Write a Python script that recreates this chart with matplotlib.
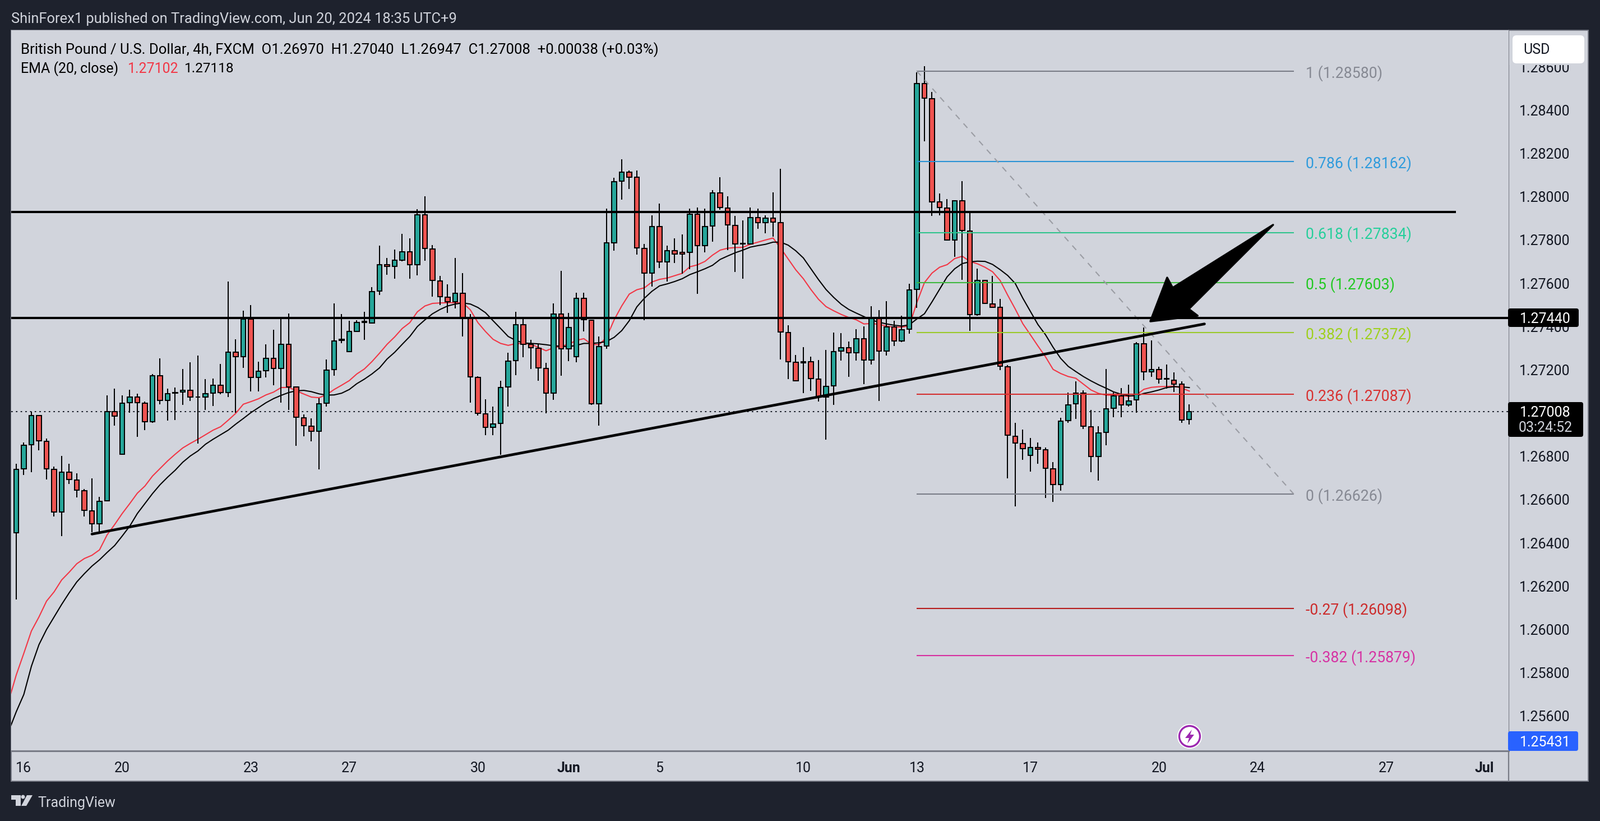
"""GBP/USD 4h TradingView snapshot with fib levels and hand drawn lines."""

import matplotlib
matplotlib.use("Agg")
import matplotlib.patches as mpatches
import matplotlib.pyplot as plt
import numpy as np
from matplotlib.transforms import Affine2D, blended_transform_factory

W, H = 2854, 1464
plt.rcParams["font.family"] = "Roboto"

opens = [
    1.26447, 1.26742, 1.26853, 1.26989, 1.26869, 1.26741, 1.26543, 1.26727, 1.26691, 1.26642,
    1.26549, 1.26488, 1.26594, 1.27007, 1.26810, 1.27047, 1.27074, 1.27046, 1.26959, 1.27173,
    1.27058, 1.27092, 1.27097, 1.27105, 1.27075, 1.27074, 1.27092, 1.27128, 1.27095, 1.27282,
    1.27262, 1.27435, 1.27164, 1.27196, 1.27253, 1.27206, 1.27318, 1.27120, 1.26978, 1.26940,
    1.26915, 1.27045, 1.27200, 1.27336, 1.27283, 1.27378, 1.27420, 1.27415, 1.27563, 1.27686,
    1.27677, 1.27707, 1.27746, 1.27685, 1.27916, 1.27758, 1.27611, 1.27536, 1.27516, 1.27554,
    1.27436, 1.27165, 1.26997, 1.26934, 1.26952, 1.27120, 1.27242, 1.27408, 1.27318, 1.27300,
    1.27206, 1.27092, 1.27459, 1.27298, 1.27260, 1.27530, 1.27429, 1.27043, 1.27309, 1.27788,
    1.28071, 1.28114, 1.28090, 1.27761, 1.27646, 1.27862, 1.27698, 1.27751, 1.27743, 1.27744,
    1.27920, 1.27773, 1.27864, 1.28018, 1.27948, 1.27867, 1.27781, 1.27781, 1.27903, 1.27880,
    1.27901, 1.27880, 1.27372, 1.27235, 1.27232, 1.27238, 1.27158, 1.27074, 1.27125, 1.27286,
    1.27301, 1.27279, 1.27343, 1.27245, 1.27437, 1.27286, 1.27398, 1.27333, 1.27388, 1.27571,
    1.28522, 1.28453, 1.27975, 1.27947, 1.27800, 1.27981, 1.27840, 1.27455, 1.27614, 1.27504,
    1.27488, 1.27214, 1.26894, 1.26859, 1.26805, 1.26840, 1.26831, 1.26742, 1.26669, 1.26965,
    1.27042, 1.27092, 1.26936, 1.26799, 1.26911, 1.27022, 1.27079, 1.27037, 1.27060, 1.27320,
    1.27192, 1.27201, 1.27156, 1.27152, 1.27133, 1.26970,
]
highs = [
    1.26767, 1.26863, 1.27007, 1.26989, 1.26883, 1.26752, 1.26802, 1.26767, 1.26723, 1.26648,
    1.26698, 1.26614, 1.27083, 1.27112, 1.27081, 1.27108, 1.27091, 1.27054, 1.27181, 1.27252,
    1.27112, 1.27118, 1.27204, 1.27236, 1.27265, 1.27157, 1.27161, 1.27228, 1.27608, 1.27340,
    1.27474, 1.27499, 1.27238, 1.27317, 1.27384, 1.27439, 1.27461, 1.27120, 1.26993, 1.26977,
    1.27068, 1.27247, 1.27506, 1.27459, 1.27426, 1.27429, 1.27469, 1.27583, 1.27775, 1.27716,
    1.27757, 1.27829, 1.27808, 1.27943, 1.28003, 1.27777, 1.27635, 1.27594, 1.27716, 1.27646,
    1.27457, 1.27170, 1.27065, 1.27029, 1.27149, 1.27278, 1.27469, 1.27436, 1.27339, 1.27318,
    1.27231, 1.27506, 1.27658, 1.27464, 1.27555, 1.27555, 1.27431, 1.27353, 1.27944, 1.28088,
    1.28174, 1.28122, 1.28122, 1.27781, 1.27915, 1.27967, 1.27773, 1.27807, 1.27825, 1.27944,
    1.27951, 1.27944, 1.28031, 1.28090, 1.28001, 1.27912, 1.27890, 1.27951, 1.27944, 1.27915,
    1.28019, 1.28130, 1.27406, 1.27268, 1.27304, 1.27262, 1.27244, 1.27293, 1.27372, 1.27369,
    1.27332, 1.27387, 1.27400, 1.27493, 1.27475, 1.27517, 1.27426, 1.27449, 1.27597, 1.28575,
    1.28602, 1.28483, 1.28015, 1.27989, 1.27985, 1.28072, 1.27924, 1.27668, 1.27617, 1.27633,
    1.27527, 1.27221, 1.26955, 1.26925, 1.26885, 1.26863, 1.26840, 1.26774, 1.26978, 1.27094,
    1.27148, 1.27106, 1.27015, 1.26939, 1.27205, 1.27094, 1.27115, 1.27131, 1.27328, 1.27396,
    1.27336, 1.27215, 1.27225, 1.27188, 1.27148, 1.27040,
]
lows = [
    1.26139, 1.26715, 1.26727, 1.26828, 1.26692, 1.26521, 1.26432, 1.26673, 1.26611, 1.26521,
    1.26449, 1.26449, 1.26594, 1.26943, 1.26810, 1.27002, 1.26891, 1.26921, 1.26956, 1.27041,
    1.26966, 1.26968, 1.27039, 1.27055, 1.26860, 1.27015, 1.27032, 1.27088, 1.27074, 1.27002,
    1.27210, 1.27100, 1.27100, 1.27165, 1.27129, 1.27048, 1.27015, 1.26850, 1.26893, 1.26870,
    1.26741, 1.27031, 1.27173, 1.27322, 1.27283, 1.27378, 1.27339, 1.27415, 1.27547, 1.27638,
    1.27621, 1.27702, 1.27621, 1.27636, 1.27704, 1.27538, 1.27499, 1.27463, 1.27483, 1.27354,
    1.27049, 1.26989, 1.26899, 1.26899, 1.26807, 1.27030, 1.27176, 1.27258, 1.27203, 1.27150,
    1.26999, 1.27062, 1.27173, 1.27240, 1.27236, 1.27378, 1.27039, 1.26941, 1.27298, 1.27751,
    1.27987, 1.28036, 1.27733, 1.27428, 1.27585, 1.27671, 1.27608, 1.27693, 1.27644, 1.27665,
    1.27552, 1.27742, 1.27791, 1.27941, 1.27753, 1.27653, 1.27621, 1.27781, 1.27851, 1.27831,
    1.27815, 1.27249, 1.27157, 1.27150, 1.27092, 1.27103, 1.27053, 1.26878, 1.27038, 1.27242,
    1.27167, 1.27242, 1.27133, 1.27225, 1.27056, 1.27266, 1.27310, 1.27328, 1.27368, 1.27487,
    1.28255, 1.27910, 1.27915, 1.27800, 1.27721, 1.27617, 1.27379, 1.27451, 1.27504, 1.27487,
    1.27199, 1.26698, 1.26569, 1.26785, 1.26730, 1.26766, 1.26609, 1.26589, 1.26641, 1.26954,
    1.26974, 1.26927, 1.26727, 1.26687, 1.26851, 1.26980, 1.26980, 1.27031, 1.27001, 1.27152,
    1.27167, 1.27137, 1.27113, 1.27097, 1.26955, 1.26947,
]
closes = [
    1.26741, 1.26852, 1.26989, 1.26871, 1.26742, 1.26543, 1.26727, 1.26693, 1.26643, 1.26550,
    1.26488, 1.26592, 1.27007, 1.26986, 1.27046, 1.27074, 1.27047, 1.26959, 1.27173, 1.27058,
    1.27090, 1.27095, 1.27105, 1.27074, 1.27073, 1.27090, 1.27128, 1.27095, 1.27282, 1.27262,
    1.27435, 1.27165, 1.27193, 1.27253, 1.27206, 1.27318, 1.27122, 1.26980, 1.26942, 1.26915,
    1.27043, 1.27199, 1.27334, 1.27341, 1.27378, 1.27418, 1.27424, 1.27562, 1.27686, 1.27677,
    1.27707, 1.27746, 1.27685, 1.27916, 1.27760, 1.27612, 1.27537, 1.27516, 1.27554, 1.27438,
    1.27168, 1.26999, 1.26934, 1.26949, 1.27118, 1.27239, 1.27408, 1.27318, 1.27302, 1.27209,
    1.27092, 1.27459, 1.27298, 1.27395, 1.27530, 1.27431, 1.27043, 1.27307, 1.27787, 1.28069,
    1.28114, 1.28091, 1.27763, 1.27646, 1.27862, 1.27698, 1.27751, 1.27735, 1.27735, 1.27920,
    1.27773, 1.27862, 1.28018, 1.27950, 1.27869, 1.27781, 1.27783, 1.27904, 1.27880, 1.27901,
    1.27882, 1.27375, 1.27237, 1.27150, 1.27238, 1.27159, 1.27076, 1.27124, 1.27285, 1.27301,
    1.27279, 1.27343, 1.27245, 1.27437, 1.27286, 1.27399, 1.27333, 1.27386, 1.27569, 1.28522,
    1.28456, 1.27976, 1.27950, 1.27800, 1.27981, 1.27843, 1.27455, 1.27614, 1.27507, 1.27489,
    1.27218, 1.26897, 1.26862, 1.26837, 1.26840, 1.26833, 1.26745, 1.26669, 1.26962, 1.27039,
    1.27092, 1.26939, 1.26799, 1.26908, 1.27019, 1.27079, 1.27037, 1.27056, 1.27320, 1.27192,
    1.27201, 1.27157, 1.27159, 1.27135, 1.26968, 1.27008,
]

# both EMAs start one bar before the first candle
ema_red = [
    1.25670, 1.25790, 1.25890, 1.25993, 1.26058, 1.26131, 1.26174, 1.26229, 1.26265, 1.26304,
    1.26328, 1.26343, 1.26368, 1.26437, 1.26485, 1.26536, 1.26582, 1.26630, 1.26663, 1.26709,
    1.26744, 1.26779, 1.26810, 1.26839, 1.26860, 1.26879, 1.26900, 1.26921, 1.26937, 1.26967,
    1.26999, 1.27041, 1.27053, 1.27066, 1.27084, 1.27097, 1.27118, 1.27119, 1.27103, 1.27088,
    1.27074, 1.27071, 1.27085, 1.27109, 1.27129, 1.27150, 1.27181, 1.27204, 1.27238, 1.27277,
    1.27318, 1.27352, 1.27391, 1.27418, 1.27468, 1.27495, 1.27507, 1.27509, 1.27510, 1.27510,
    1.27510, 1.27477, 1.27418, 1.27377, 1.27341, 1.27322, 1.27313, 1.27321, 1.27322, 1.27318,
    1.27304, 1.27288, 1.27302, 1.27309, 1.27318, 1.27336, 1.27344, 1.27318, 1.27316, 1.27350,
    1.27431, 1.27495, 1.27550, 1.27570, 1.27579, 1.27606, 1.27618, 1.27624, 1.27635, 1.27646,
    1.27676, 1.27685, 1.27701, 1.27730, 1.27753, 1.27762, 1.27765, 1.27766, 1.27780, 1.27790,
    1.27800, 1.27809, 1.27762, 1.27712, 1.27662, 1.27621, 1.27571, 1.27526, 1.27492, 1.27473,
    1.27456, 1.27442, 1.27431, 1.27412, 1.27414, 1.27410, 1.27402, 1.27397, 1.27397, 1.27403,
    1.27511, 1.27603, 1.27647, 1.27674, 1.27686, 1.27714, 1.27725, 1.27701, 1.27690, 1.27674,
    1.27653, 1.27613, 1.27545, 1.27481, 1.27413, 1.27362, 1.27310, 1.27260, 1.27202, 1.27183,
    1.27169, 1.27161, 1.27134, 1.27107, 1.27091, 1.27083, 1.27083, 1.27080, 1.27077, 1.27084,
    1.27110, 1.27119, 1.27122, 1.27123, 1.27125, 1.27115, 1.27102,
]
ema_black = [
    1.25530, 1.25620, 1.25700, 1.25830, 1.25930, 1.26000, 1.26058, 1.26116, 1.26170, 1.26220,
    1.26258, 1.26293, 1.26322, 1.26356, 1.26388, 1.26432, 1.26478, 1.26536, 1.26582, 1.26628,
    1.26669, 1.26704, 1.26736, 1.26773, 1.26802, 1.26825, 1.26856, 1.26879, 1.26900, 1.26921,
    1.26949, 1.26975, 1.27002, 1.27025, 1.27048, 1.27067, 1.27082, 1.27095, 1.27103, 1.27105,
    1.27099, 1.27089, 1.27083, 1.27084, 1.27092, 1.27109, 1.27136, 1.27157, 1.27181, 1.27209,
    1.27250, 1.27281, 1.27318, 1.27354, 1.27400, 1.27431, 1.27459, 1.27479, 1.27495, 1.27504,
    1.27509, 1.27504, 1.27488, 1.27464, 1.27427, 1.27391, 1.27354, 1.27336, 1.27324, 1.27322,
    1.27320, 1.27316, 1.27311, 1.27309, 1.27307, 1.27313, 1.27322, 1.27322, 1.27325, 1.27331,
    1.27350, 1.27381, 1.27427, 1.27491, 1.27531, 1.27563, 1.27588, 1.27597, 1.27608, 1.27621,
    1.27640, 1.27653, 1.27667, 1.27683, 1.27710, 1.27726, 1.27741, 1.27753, 1.27767, 1.27774,
    1.27780, 1.27790, 1.27790, 1.27776, 1.27750, 1.27717, 1.27667, 1.27617, 1.27571, 1.27535,
    1.27503, 1.27479, 1.27462, 1.27446, 1.27430, 1.27420, 1.27412, 1.27406, 1.27402, 1.27408,
    1.27435, 1.27459, 1.27514, 1.27572, 1.27630, 1.27667, 1.27691, 1.27699, 1.27702, 1.27701,
    1.27687, 1.27663, 1.27636, 1.27599, 1.27531, 1.27470, 1.27409, 1.27362, 1.27304, 1.27253,
    1.27216, 1.27192, 1.27169, 1.27149, 1.27131, 1.27115, 1.27098, 1.27087, 1.27080, 1.27080,
    1.27091, 1.27098, 1.27107, 1.27118, 1.27122, 1.27121, 1.27118,
]

fib_names = ["1", "0.786", "0.618", "0.5", "0.382", "0.236", "0", "-0.27", "-0.382"]
fib_prices = [1.28580, 1.28162, 1.27834, 1.27603, 1.27372, 1.27087, 1.26626, 1.26098, 1.25879]
fib_line_colors = ["#787b86", "#2a93d5", "#2fc48d", "#3fb83f", "#9bc92b", "#d32f2f", "#787b86", "#b71c1c", "#d6309f"]
fib_text_colors = ["#868993", "#2f9bdc", "#26cf9b", "#22c922", "#9fd01e", "#d83232", "#868993", "#cc2b2b", "#d633a3"]

price_ticks = [1.286, 1.284, 1.282, 1.280, 1.278, 1.276, 1.274, 1.272, 1.270,
               1.268, 1.266, 1.264, 1.262, 1.260, 1.258, 1.256]
date_ticks = [1, 14, 31, 44, 61, 73, 85, 104, 119, 134, 151, 164, 181, 194]
date_labels = ["16", "20", "23", "27", "30", "Jun", "5", "10", "13", "17", "20", "24", "27", "Jul"]

resistance = 1.2793
support = 1.2744
last_close = 1.27008
trend_bars = [10.0, 157.0]
trend_prices = [1.26441, 1.27412]
fib_span = [119.0, 168.8]
arrow_bars = [149.85, 152.07, 152.8, 166.07, 154.93, 156.1]
arrow_prices = [1.27424, 1.27626, 1.27579, 1.27870, 1.27481, 1.27450]

BG = "#d1d4dc"
DARK = "#1e222d"
EDGE = "#787b86"
FS = 18

fig = plt.figure(figsize=(W / 100, H / 100), dpi=100, facecolor=DARK)
# pixel coordinates of the screenshot, y going down
px = Affine2D().scale(1 / W, -1 / H).translate(0, 1) + fig.transFigure

fig.add_artist(mpatches.Rectangle((20, 54), 2813, 1339, transform=px, facecolor=BG,
                                  edgecolor=EDGE, linewidth=1.4, zorder=1))
fig.add_artist(plt.Line2D([2691, 2691], [54, 1393], transform=px, color=EDGE, lw=1.6, zorder=1))

ax = fig.add_axes([20 / W, 1 - 1339 / H, (2691 - 20) / W, (1339 - 54) / H], facecolor=BG, zorder=2)
ax.set_xlim(-0.6667, 197.19)
ax.set_ylim(1.25439, 1.28769)
for name, s in ax.spines.items():
    s.set_visible(name == "bottom")
    s.set_color(EDGE)
    s.set_linewidth(2.2)

ax.yaxis.tick_right()
ax.set_yticks(price_ticks)
ax.set_yticklabels([f"{v:.5f}" for v in price_ticks], fontsize=FS, color="#131722")
ax.set_xticks(date_ticks)
ax.set_xticklabels(date_labels, fontsize=FS, color="#131722")
ax.tick_params(axis="y", length=0, pad=13.7)
ax.tick_params(axis="x", length=0, pad=14)
for lab in ax.get_xticklabels():
    if lab.get_text() in ("Jun", "Jul"):
        lab.set_fontweight("bold")

o = np.array(opens)
c = np.array(closes)
bars = np.arange(len(o))
up = c >= o

ax.axhline(last_close, color="#131722", lw=1.4, dashes=(1.4, 2.9), zorder=1)
ema_x = np.arange(-1, len(o))
ax.plot(ema_x, ema_red, color="#f23645", lw=1.5, zorder=2)
ax.plot(ema_x, ema_black, color="#000000", lw=1.5, zorder=2)

ax.vlines(bars, lows, highs, color="black", lw=1.45, zorder=3)
ax.bar(bars, np.abs(c - o), bottom=np.minimum(o, c), width=0.6,
       color=np.where(up, "#26a69a", "#ef5350"), edgecolor="black", linewidth=1.45, zorder=4)

# fib retracement
for name, price, lc, tc in zip(fib_names, fib_prices, fib_line_colors, fib_text_colors):
    ax.plot(fib_span, [price, price], color=lc, lw=1.5, zorder=5, solid_capstyle="butt")
    ax.text(fib_span[1] + 1.6, price, f"{name} ({price:.5f})", color=tc, fontsize=19.2,
            va="center_baseline", ha="left", zorder=5)
ax.plot(fib_span, [fib_prices[0], fib_prices[6]], color="#9a9ca3", lw=1.5, dashes=(5, 5), zorder=5)

# hand drawn lines
ax.plot([-0.6667, 190.1], [resistance, resistance], color="black", lw=2.9, zorder=6)
ax.plot([-0.6667, 197.19], [support, support], color="black", lw=2.9, zorder=6)
ax.plot(trend_bars, trend_prices, color="black", lw=3.4, zorder=6, solid_capstyle="round")
ax.fill(arrow_bars, arrow_prices, facecolor="black", edgecolor="black", lw=2.5,
        joinstyle="round", zorder=6)

# price axis tags
ytrans = blended_transform_factory(px, ax.transData)


def tag(y0, y1, x1, color):
    ax.add_patch(mpatches.FancyBboxPatch(
        (2690, y0), x1 - 2690, y1 - y0, boxstyle="round,pad=0,rounding_size=4",
        transform=px, facecolor=color, edgecolor="none", clip_on=False, zorder=10))


tag(550, 583, 2816, "black")
ax.text(2710.6, 1.27440, "1.27440", transform=ytrans, color="white", fontsize=FS,
        va="center_baseline", zorder=11, clip_on=False)
tag(717, 779, 2824, "black")
ax.text(2710.6, last_close, "1.27008", transform=ytrans, color="white", fontsize=FS,
        va="center_baseline", zorder=11, clip_on=False)
ax.text(2709, 761, "03:24:52", transform=px, color="#d1d4dc", fontsize=FS,
        va="center_baseline", zorder=11, clip_on=False)
tag(1304, 1339, 2815, "#2962ff")
ax.text(2710.6, 1321.5, "1.25431", transform=px, color="white", fontsize=FS,
        va="center_baseline", zorder=11, clip_on=False)

# the currency button sits over the top price label and cuts it
ax.add_patch(mpatches.Rectangle((2692, 55), 140, 61, transform=px, facecolor=BG,
                                edgecolor="none", clip_on=False, zorder=9))
ax.add_patch(mpatches.FancyBboxPatch(
    (2698, 63), 128, 50, boxstyle="round,pad=0,rounding_size=7", transform=px,
    facecolor="white", edgecolor="none", clip_on=False, zorder=10))
ax.text(2717, 87, "USD", transform=px, color="#131722", fontsize=FS,
        va="center_baseline", zorder=11, clip_on=False)

# header and legend
fig.text(20 / W, 1 - 32 / H, "ShinForex1 published on TradingView.com, Jun 20, 2024 18:35 UTC+9",
         color="#d1d4dc", fontsize=18.4, va="center_baseline")
leg = "British Pound / U.S. Dollar, 4h, FXCM  O1.26970  H1.27040  L1.26947  C1.27008  +0.00038 (+0.03%)"
ax.text(37, 86, leg, transform=px, color="black", fontsize=18.5, va="center_baseline", zorder=11)
ax.text(37, 120, "EMA (20, close)", transform=px, color="black", fontsize=FS,
        va="center_baseline", zorder=11)
ax.text(228, 120, "1.27102", transform=px, color="#f23645", fontsize=FS,
        va="center_baseline", zorder=11)
ax.text(329, 120, "1.27118", transform=px, color="black", fontsize=17.5,
        va="center_baseline", zorder=11)

# bolt badge
ax.add_patch(mpatches.Circle((2122, 1313), 22, transform=px, facecolor="white",
                             edgecolor="none", zorder=8))
ax.add_patch(mpatches.Circle((2122, 1313), 18.5, transform=px, facecolor="white",
                             edgecolor="#9c27b0", lw=2.4, zorder=9))
ax.add_patch(mpatches.Polygon([(2126, 1301), (2114, 1316), (2121, 1316), (2118, 1326),
                               (2130, 1310), (2123, 1310)], transform=px,
                              facecolor="#9c27b0", edgecolor="none", zorder=10))

# TradingView logo
logo = "#d1d4dc"
fig.add_artist(mpatches.Polygon([(20, 1418), (37, 1418), (37, 1437), (28, 1437), (28, 1426), (20, 1426)],
                                transform=px, facecolor=logo, edgecolor="none", zorder=3))
fig.add_artist(mpatches.Circle((41, 1421), 3.5, transform=px, facecolor=logo, edgecolor="none", zorder=3))
fig.add_artist(mpatches.Polygon([(48, 1418), (58, 1418), (47, 1437), (38, 1437)],
                                transform=px, facecolor=logo, edgecolor="none", zorder=3))
fig.text(67 / W, 1 - 1430 / H, "TradingView", color=logo, fontsize=FS, va="center_baseline")

fig.savefig("out.png", dpi=100, facecolor=DARK)
